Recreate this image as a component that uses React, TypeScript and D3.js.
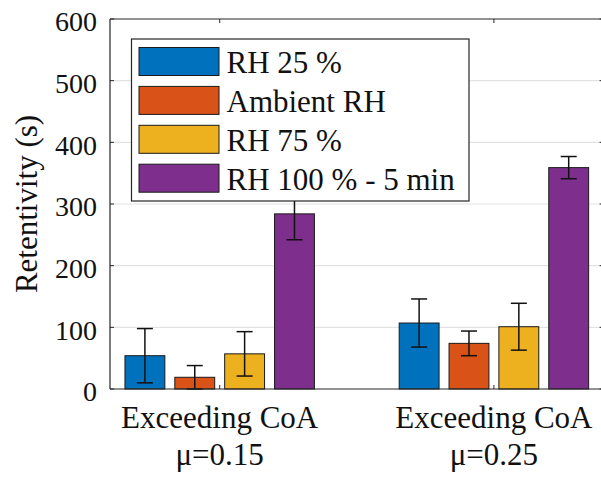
import React, { useEffect, useRef } from "react";
import * as d3 from "d3";

// chart data
const groups = [1, 2];
const groupLines = [
  ["Exceeding CoA", "μ=0.15"],
  ["Exceeding CoA", "μ=0.25"],
];
const seriesNames = ["RH 25 %", "Ambient RH", "RH 75 %", "RH 100 % - 5 min"];
const seriesColors = ["#0072BD", "#D95319", "#EDB120", "#7E2F8E"];
const rh25 = [54, 107];
const ambient = [19, 74];
const rh75 = [57, 101];
const rh100 = [284, 359];
const rh25Err = [44, 39];
const ambientErr = [19, 20];
const rh75Err = [36, 38];
const rh100Err = [42, 18];
const yTicks = [0, 100, 200, 300, 400, 500, 600];

const means = [rh25, ambient, rh75, rh100];
const errs = [rh25Err, ambientErr, rh75Err, rh100Err];

const W = 601;
const H = 483;
const FONT = "Liberation Serif, Tinos, Times New Roman, DejaVu Serif, serif";

const App = () => {
  const svgRef = useRef<SVGSVGElement>(null);

  useEffect(() => {
    const margin = { top: 19, left: 110, bottom: 94 };
    const svg = d3.select(svgRef.current);
    svg.selectAll("*").remove();
    svg.attr("font-family", FONT);

    const x = d3.scaleLinear().domain([0.6, 2.4]).range([margin.left, 603.6]);
    const y = d3.scaleLinear().domain([0, 600]).range([H - margin.bottom, margin.top]);

    // MATLAB grouped bar: group width 0.727 units, bar = 0.8 of slot
    const groupW = x(1 + 4 / 5.5) - x(1);
    const sub = d3
      .scaleBand<number>()
      .domain(d3.range(seriesNames.length))
      .range([-groupW / 2, groupW / 2])
      .paddingInner(0.2)
      .paddingOuter(0.1);

    const x0 = margin.left;
    const x1 = 603.6;

    // grid
    svg
      .append("g")
      .selectAll("line")
      .data(yTicks.slice(1, -1))
      .enter()
      .append("line")
      .attr("x1", x0)
      .attr("x2", x1)
      .attr("y1", (d) => y(d))
      .attr("y2", (d) => y(d))
      .attr("stroke", "#e3e3e3")
      .attr("stroke-width", 1.2);

    // bars
    means.forEach((vals, s) => {
      const g = svg.append("g");
      g.selectAll("rect")
        .data(groups)
        .enter()
        .append("rect")
        .attr("x", (d) => x(d) + (sub(s) as number))
        .attr("width", sub.bandwidth())
        .attr("y", (d, i) => y(vals[i]))
        .attr("height", (d, i) => y(0) - y(vals[i]))
        .attr("fill", seriesColors[s])
        .attr("stroke", "#1a1a1a")
        .attr("stroke-width", 1);

      // error bars
      groups.forEach((d, i) => {
        const cx = x(d) + (sub(s) as number) + sub.bandwidth() / 2;
        const lo = y(Math.max(0, vals[i] - errs[s][i]));
        const hi = y(vals[i] + errs[s][i]);
        const eb = g.append("g").attr("stroke", "#111").attr("stroke-width", 1.5);
        eb.append("line").attr("x1", cx).attr("x2", cx).attr("y1", lo).attr("y2", hi);
        [lo, hi].forEach((yy) =>
          eb.append("line").attr("x1", cx - 8).attr("x2", cx + 8).attr("y1", yy).attr("y2", yy)
        );
      });
    });

    // axes box lines
    const axisColor = "#262626";
    svg.append("line").attr("x1", x0).attr("x2", x1).attr("y1", y(0)).attr("y2", y(0)).attr("stroke", axisColor).attr("stroke-width", 1.2);
    svg.append("line").attr("x1", x0).attr("x2", x1).attr("y1", y(600)).attr("y2", y(600)).attr("stroke", axisColor).attr("stroke-width", 1.2);
    svg.append("line").attr("x1", x0).attr("x2", x0).attr("y1", y(0)).attr("y2", y(600)).attr("stroke", axisColor).attr("stroke-width", 1.2);
    svg.append("line").attr("x1", x1).attr("x2", x1).attr("y1", y(0)).attr("y2", y(600)).attr("stroke", axisColor).attr("stroke-width", 1.2);

    // y ticks (inward, both sides)
    yTicks.forEach((t) => {
      svg.append("line").attr("x1", x0).attr("x2", x0 + 4).attr("y1", y(t)).attr("y2", y(t)).attr("stroke", axisColor);
      svg.append("line").attr("x1", x1 - 4).attr("x2", x1).attr("y1", y(t)).attr("y2", y(t)).attr("stroke", axisColor);
    });
    // x ticks (inward, top and bottom)
    groups.forEach((g) => {
      svg.append("line").attr("x1", x(g)).attr("x2", x(g)).attr("y1", y(0)).attr("y2", y(0) - 4).attr("stroke", axisColor);
      svg.append("line").attr("x1", x(g)).attr("x2", x(g)).attr("y1", y(600)).attr("y2", y(600) + 4).attr("stroke", axisColor);
    });

    // y tick labels
    svg
      .append("g")
      .selectAll("text")
      .data(yTicks)
      .enter()
      .append("text")
      .attr("x", x0 - 13)
      .attr("y", (d) => y(d))
      .attr("dy", "0.44em")
      .attr("text-anchor", "end")
      .attr("font-size", 28)
      .attr("fill", "#111")
      .text((d) => d);

    // x tick labels (two lines)
    groups.forEach((g, i) => {
      groupLines[i].forEach((line, k) => {
        svg
          .append("text")
          .attr("x", x(g))
          .attr("y", 428 + k * 37)
          .attr("text-anchor", "middle")
          .attr("font-size", 31)
          .attr("fill", "#111")
          .text(line);
      });
    });

    // y axis label
    svg
      .append("text")
      .attr("transform", `translate(37,${(y(0) + y(600)) / 2}) rotate(-90)`)
      .attr("text-anchor", "middle")
      .attr("font-size", 31)
      .attr("fill", "#111")
      .text("Retentivity (s)");

    // legend
    const legend = svg.append("g").attr("transform", "translate(131.5,39)");
    legend
      .append("rect")
      .attr("width", 337.5)
      .attr("height", 162)
      .attr("fill", "#fff")
      .attr("stroke", axisColor)
      .attr("stroke-width", 1.2);

    seriesNames.forEach((name, i) => {
      const row = legend.append("g").attr("transform", `translate(0,${8.5 + i * 38.9})`);
      row
        .append("rect")
        .attr("x", 7.5)
        .attr("width", 80)
        .attr("height", 28)
        .attr("fill", seriesColors[i])
        .attr("stroke", "#1a1a1a")
        .attr("stroke-width", 1);
      row
        .append("text")
        .attr("x", 95)
        .attr("y", 25.5)
        .attr("font-size", 31)
        .attr("fill", "#111")
        .text(name);
    });
  }, []);

  return (
    <div style={{ position: "absolute", left: 0, top: 0 }}>
      <svg ref={svgRef} width={W} height={H} style={{ display: "block", background: "#fff" }}></svg>
    </div>
  );
};

export default App;
